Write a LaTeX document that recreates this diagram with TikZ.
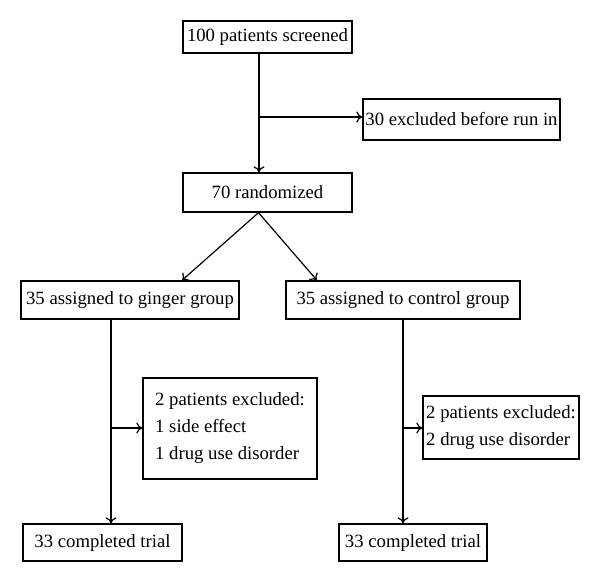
\documentclass[tikz,border=0pt]{standalone}
\usepackage{fontspec}
\setmainfont{Liberation Serif}
\usetikzlibrary{arrows.meta}

\begin{document}
\begin{tikzpicture} [x=1pt, y=-1pt, line width=1.3pt,
        box/.style={draw, shape=rectangle, inner sep=0pt, align=left, font=\fontsize{18.7}{27}\selectfont},
        arr/.style={line width=1.2pt, -{To[length=6pt, width=11pt]}}]
        \useasboundingbox (0, 0) rectangle (600, 582);
        \node [box, minimum width=169, minimum height=32] (screen) at (267.5, 37) {100 patients screened};
        \node [box, minimum width=197, minimum height=41] (excl) at (461.5, 119.5) {30 excluded before run in};
        \node [box, minimum width=169, minimum height=39] (rand) at (267.5, 192.5) {70 randomized};
        \node [box, minimum width=218, minimum height=38] (ginger) at (130, 300) {35 assigned to ginger group};
        \node [box, minimum width=234, minimum height=38] (control) at (403, 300) {35 assigned to control group};
        \node [box, minimum width=174, minimum height=101] (exclg) at (230, 428.5) {2 patients excluded:\\1 side effect\\1 drug use disorder};
        \node [box, minimum width=156, minimum height=63] (exclc) at (501, 427.5) {2 patients excluded:\\2 drug use disorder};
        \node [box, minimum width=159, minimum height=37] (doneg) at (102.5, 542.5) {33 completed trial};
        \node [box, minimum width=148, minimum height=37] (donec) at (413, 542.5) {33 completed trial};
        % branch points
        \coordinate (b0) at (259, 117);
        \coordinate (b1) at (111, 428);
        \coordinate (b2) at (403, 428);
        \draw [arr] ([xshift=-8.5pt]screen.south) -- ([xshift=-8.5pt]rand.north);
        \draw [arr] (b0) -- (b0 -| excl.west);
        \draw [arr] ([xshift=-9pt]rand.south) -- ([xshift=52pt]ginger.north);
        \draw [arr] ([xshift=-9pt]rand.south) -- ([xshift=-86pt]control.north);
        \draw [arr] (b1 |- ginger.south) -- (b1 |- doneg.north);
        \draw [arr] (b1) -- (b1 -| exclg.west);
        \draw [arr] (control.south) -- (b2 |- donec.north);
        \draw [arr] (b2) -- (b2 -| exclc.west);
    \end{tikzpicture}
\end{document}
